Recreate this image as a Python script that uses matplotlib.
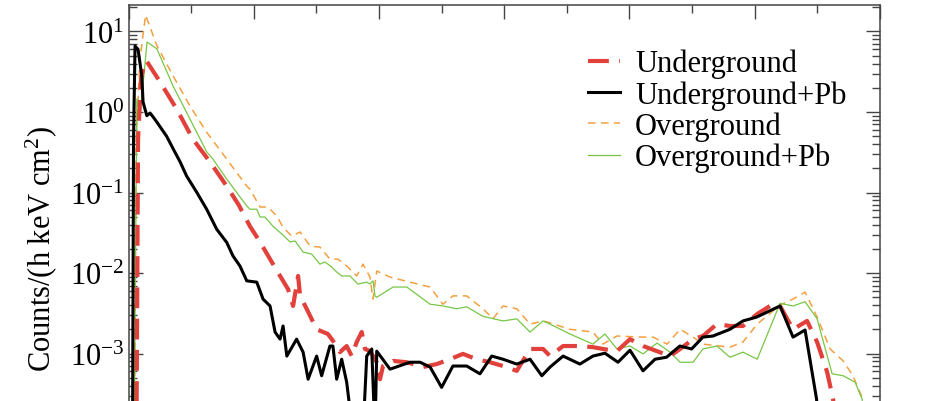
import numpy as np
import matplotlib
matplotlib.use("Agg")
import matplotlib.pyplot as plt
from matplotlib.ticker import MultipleLocator, LogLocator, NullFormatter

plt.rcParams["font.family"] = ["Liberation Serif", "DejaVu Serif"]
plt.rcParams["mathtext.fontset"] = "custom"
plt.rcParams["mathtext.rm"] = "Liberation Serif"
plt.rcParams["mathtext.it"] = "Liberation Serif:italic"
plt.rcParams["mathtext.default"] = "regular"

# Energy (keV) and rate (counts / h keV cm^2) for each configuration
e_under = [30, 38, 50, 66, 74, 126, 192, 257, 325, 392, 440, 485, 525, 565, 605, 637, 657,
           677, 685, 711, 751, 796, 831, 844, 871, 891, 911, 931, 944, 964, 991, 1004,
           1016, 1056, 1111, 1176, 1230, 1283, 1335, 1390, 1443, 1495, 1550, 1603, 1655,
           1683, 1735, 1802, 1854, 1894, 1950, 2002, 2054, 2110, 2162, 2202, 2254, 2293,
           2349, 2401, 2453, 2510, 2561, 2601, 2653, 2709, 2749, 2789, 2813, 2840]
r_under = [1e-5, 0.46, 2.6, 4.3, 4.2, 2.36, 1.09, 0.46, 0.24, 0.12, 0.07, 0.038, 0.0243,
           0.0149, 0.0092, 0.0063, 0.0039, 0.0092, 0.0052, 0.0036, 0.002, 0.00175, 0.00124,
           0.00104, 0.00124, 0.00093, 0.00139, 0.00185, 0.00114, 0.00107, 0.00078, 0.00048,
           0.0007, 0.00081, 0.00078, 0.00068, 0.00074, 0.00085, 0.00099, 0.00085, 0.00078,
           0.0007, 0.00061, 0.00114, 0.00114, 0.00093, 0.00124, 0.00124, 0.0012, 0.00114,
           0.00107, 0.00151, 0.00124, 0.00107, 0.00093, 0.00114, 0.00151, 0.00165, 0.00232,
           0.0022, 0.0022, 0.0031, 0.0039, 0.0039, 0.002, 0.00254, 0.00139, 0.00059,
           0.00027, 1e-5]

e_under_pb = [15, 20, 26, 38, 53, 58, 73, 86, 98, 113, 152, 178, 206, 232, 272, 312, 352,
              392, 417, 445, 472, 512, 537, 565, 585, 605, 617, 632, 671, 697, 717, 751,
              771, 804, 816, 831, 851, 871, 896, 936, 951, 971, 984, 991, 1044, 1124, 1164,
              1204, 1250, 1295, 1350, 1403, 1450, 1495, 1550, 1603, 1650, 1683, 1735, 1802,
              1854, 1902, 1954, 2002, 2054, 2102, 2148, 2201, 2248, 2293, 2333, 2401, 2453,
              2508, 2601, 2653, 2701, 2747, 2770]
r_under_pb = [1e-5, 0.46, 6.6, 6.0, 2.8, 1.33, 0.90, 0.97, 0.87, 0.75, 0.50, 0.35, 0.24,
              0.16, 0.101, 0.062, 0.035, 0.024, 0.0163, 0.0122, 0.0080, 0.0077, 0.00475,
              0.0039, 0.00185, 0.00151, 0.0022, 0.00093, 0.00151, 0.00104, 0.00048, 0.00093,
              0.00053, 0.00124, 0.00124, 0.00048, 0.00085, 0.00044, 1e-4, 1e-4, 0.00093,
              0.00114, 1e-4, 0.00107, 0.00064, 0.00078, 0.00078, 0.00068, 0.00038, 0.0007,
              0.0007, 0.00056, 0.00093, 0.00085, 0.00074, 0.00085, 0.00053, 0.00068, 0.00093,
              0.00074, 0.00093, 0.00101, 0.00078, 0.0011, 0.00061, 0.00085, 0.0009, 0.00124,
              0.00114, 0.0016, 0.00165, 0.0020, 0.00254, 0.00284, 0.0039, 0.0016, 0.00196,
              0.00027, 1e-5]

e_over = [22, 30, 46, 68, 113, 178, 245, 312, 392, 472, 485, 525, 557, 592, 617, 651, 685,
          725, 764, 804, 836, 871, 911, 936, 964, 976, 991, 1044, 1124, 1204, 1255, 1295,
          1350, 1415, 1455, 1495, 1550, 1603, 1655, 1683, 1762, 1854, 1894, 1950, 2054,
          2094, 2150, 2202, 2254, 2293, 2401, 2453, 2510, 2601, 2653, 2701, 2749, 2801,
          2853, 2892, 2932, 2960]
r_over = [1e-5, 0.46, 4.6, 16.0, 6.7, 2.8, 1.19, 0.56, 0.26, 0.12, 0.11, 0.066, 0.066,
          0.051, 0.037, 0.0288, 0.0323, 0.0216, 0.021, 0.0149, 0.0149, 0.0122, 0.0092,
          0.0129, 0.0089, 0.00475, 0.0106, 0.0089, 0.0077, 0.0067, 0.0041, 0.0052, 0.0052,
          0.0036, 0.0027, 0.0039, 0.0036, 0.00232, 0.00254, 0.0024, 0.0020, 0.00185,
          0.00131, 0.00165, 0.0016, 0.0016, 0.00131, 0.0020, 0.0016, 0.00131, 0.0012,
          0.00139, 0.00232, 0.0040, 0.00475, 0.0058, 0.00284, 0.00114, 0.00081, 0.00053,
          0.00027, 1e-5]

e_over_pb = [20, 33, 46, 74, 113, 178, 245, 312, 337, 392, 472, 485, 512, 525, 545, 577,
             612, 645, 665, 697, 731, 764, 784, 811, 831, 851, 884, 916, 951, 964, 976, 984,
             991, 1056, 1111, 1204, 1255, 1310, 1350, 1415, 1495, 1550, 1603, 1655, 1683,
             1762, 1854, 1902, 1950, 2002, 2054, 2110, 2162, 2202, 2254, 2293, 2349, 2401,
             2453, 2510, 2601, 2653, 2701, 2749, 2809, 2853, 2901, 2929, 2945]
r_over_pb = [1e-5, 1.45, 0.89, 7.4, 6.1, 2.1, 0.82, 0.32, 0.26, 0.147, 0.068, 0.062, 0.062,
             0.0496, 0.0496, 0.038, 0.0305, 0.0243, 0.025, 0.0182, 0.0172, 0.0129, 0.0137,
             0.0119, 0.0103, 0.0092, 0.0092, 0.0073, 0.0077, 0.0073, 0.0080, 0.0052, 0.005,
             0.0067, 0.0067, 0.0041, 0.0039, 0.0036, 0.0038, 0.0029, 0.00254, 0.0027,
             0.00185, 0.00254, 0.00232, 0.00175, 0.00131, 0.00175, 0.00114, 0.00124,
             0.00099, 0.00135, 0.00104, 0.00078, 0.00078, 0.00114, 0.00124, 0.0009, 0.00104,
             0.00085, 0.0042, 0.0039, 0.0044, 0.0027, 0.00056, 0.00053, 0.00044, 0.00027,
             1e-5]

labels = ["Underground", "Underground+Pb", "Overground", "Overground+Pb"]

fig = plt.figure(figsize=(9.30, 4.02), dpi=100)
# the axes runs past the lower edge of the figure; only its upper part is shown
ax = fig.add_axes([0.1382, -0.0522, 0.808, 1.0373])

ax.plot(e_under, r_under, color="#e2403b", lw=3.0, dashes=(5, 2.5), label=labels[0], zorder=3)
ax.plot(e_under_pb, r_under_pb, color="black", lw=2.2, label=labels[1], zorder=4)
ax.plot(e_over, r_over, color="#f4a040", lw=1.1, dashes=(5, 3.5), label=labels[2], zorder=2)
ax.plot(e_over_pb, r_over_pb, color="#78c646", lw=0.9, label=labels[3], zorder=2)

ax.set_yscale("log")
ax.set_xlim(0, 3000)
ax.set_ylim(10 ** -3.85, 10 ** 1.329)

ax.xaxis.set_major_locator(MultipleLocator(500))
ax.xaxis.set_minor_locator(MultipleLocator(250))
ax.yaxis.set_major_locator(LogLocator(base=10, numticks=20))
ax.yaxis.set_minor_locator(LogLocator(base=10, subs=np.arange(2, 10), numticks=20))
ax.yaxis.set_minor_formatter(NullFormatter())
ax.set_xticklabels([])

spine_col = "#444444"
for s in ax.spines.values():
    s.set_color(spine_col)
    s.set_linewidth(1.1)
ax.tick_params(which="both", direction="in", top=True, right=True, color=spine_col, width=1.0)
ax.tick_params(which="major", length=10)
ax.tick_params(which="minor", length=5.8)
ax.tick_params(axis="y", labelsize=22, pad=3)

ax.set_ylabel("Counts/(h keV cm$^2$)", fontsize=22)
ax.yaxis.set_label_coords(-0.0925, 0.418)

ax.legend(loc="upper left", bbox_to_anchor=(0.611, 0.895), frameon=False, fontsize=22,
          handlelength=1.05, handletextpad=0.5, labelspacing=0.06, borderpad=0,
          borderaxespad=0)

fig.savefig("out.png", dpi=100)
